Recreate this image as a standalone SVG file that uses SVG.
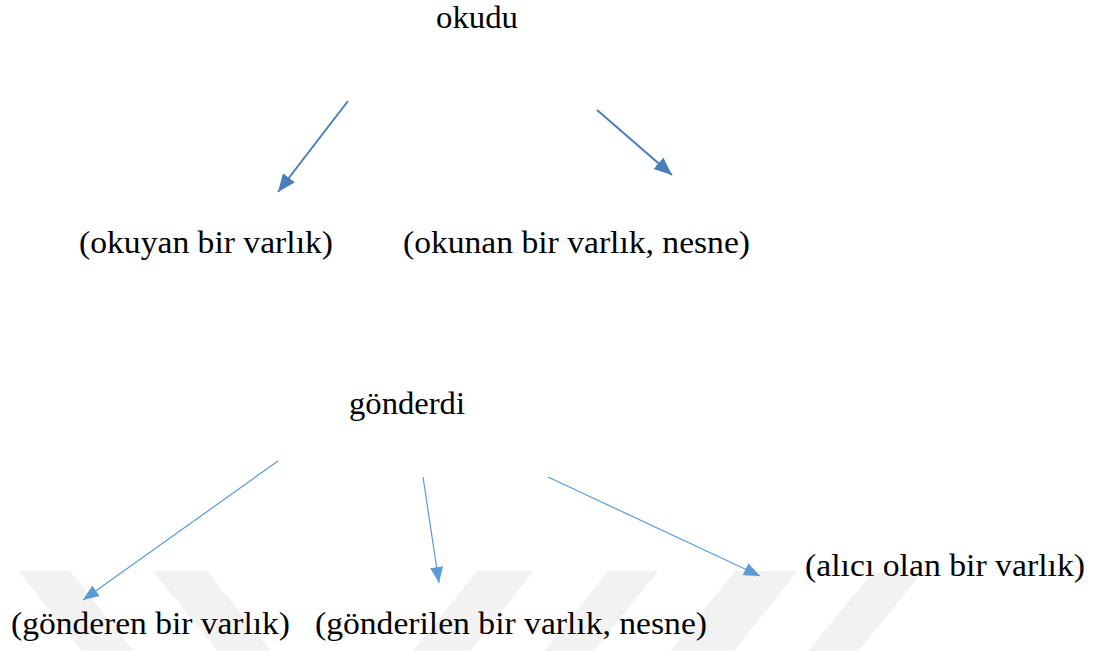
<svg xmlns="http://www.w3.org/2000/svg" width="1096" height="651" viewBox="0 0 1096 651">
  <style>
    text { font-family: 'Liberation Serif', 'Times New Roman', Times, serif; font-size: 32px; fill: #000000; }
    .wm { fill: #f2f2f2; }
    .top { stroke: #4a7ebb; stroke-width: 2; fill: none; }
    .bot { stroke: #5b9bd5; stroke-width: 1.2; fill: none; }
  </style>
  <defs>
    <marker id="headTop" markerUnits="userSpaceOnUse" markerWidth="19" markerHeight="16" refX="18" refY="7.5" orient="auto">
      <path d="M0,0 L18,7.5 L0,15 z" fill="#4a7ebb"/>
    </marker>
    <marker id="headBot" markerUnits="userSpaceOnUse" markerWidth="17" markerHeight="14" refX="16" refY="6.5" orient="auto">
      <path d="M0,0 L16,6.5 L0,13 z" fill="#5b9bd5"/>
    </marker>
  </defs>
  <rect width="1096" height="651" fill="#ffffff"/>
  <g id="watermark">
    <polygon class="wm" points="18,571 70,571 134,651 82,651"/>
    <polygon class="wm" points="153,571 207,571 271,651 217,651"/>
    <polygon class="wm" points="477,571 534,571 470,651 413,651"/>
    <polygon class="wm" points="608,571 658,571 594,651 544,651"/>
    <polygon class="wm" points="735,571 798,571 734,651 671,651"/>
    <polygon class="wm" points="872,573 922,573 858,651 808,651"/>
  </g>
  <g id="connectors">
    <line class="top" x1="348" y1="101" x2="278" y2="192" marker-end="url(#headTop)"/>
    <line class="top" x1="597" y1="110" x2="672" y2="175" marker-end="url(#headTop)"/>
    <line class="bot" x1="278" y1="461" x2="83" y2="600" marker-end="url(#headBot)"/>
    <line class="bot" x1="423" y1="477" x2="439" y2="583" marker-end="url(#headBot)"/>
    <line class="bot" x1="548" y1="477" x2="760" y2="576" marker-end="url(#headBot)"/>
  </g>
  <g id="node-okudu">
    <text x="436" y="28" textLength="82" lengthAdjust="spacingAndGlyphs">okudu</text>
  </g>
  <g id="node-okuyan">
    <text x="79" y="253" textLength="254" lengthAdjust="spacingAndGlyphs">(okuyan bir varlık)</text>
  </g>
  <g id="node-okunan">
    <text x="403" y="253" textLength="347" lengthAdjust="spacingAndGlyphs">(okunan bir varlık, nesne)</text>
  </g>
  <g id="node-gonderdi">
    <text x="349" y="414" textLength="116" lengthAdjust="spacingAndGlyphs">gönderdi</text>
  </g>
  <g id="node-gonderen">
    <text x="11" y="634" textLength="279" lengthAdjust="spacingAndGlyphs">(gönderen bir varlık)</text>
  </g>
  <g id="node-gonderilen">
    <text x="315" y="634" textLength="392" lengthAdjust="spacingAndGlyphs">(gönderilen bir varlık, nesne)</text>
  </g>
  <g id="node-alici">
    <text x="805" y="576" textLength="280" lengthAdjust="spacingAndGlyphs">(alıcı olan bir varlık)</text>
  </g>
</svg>
